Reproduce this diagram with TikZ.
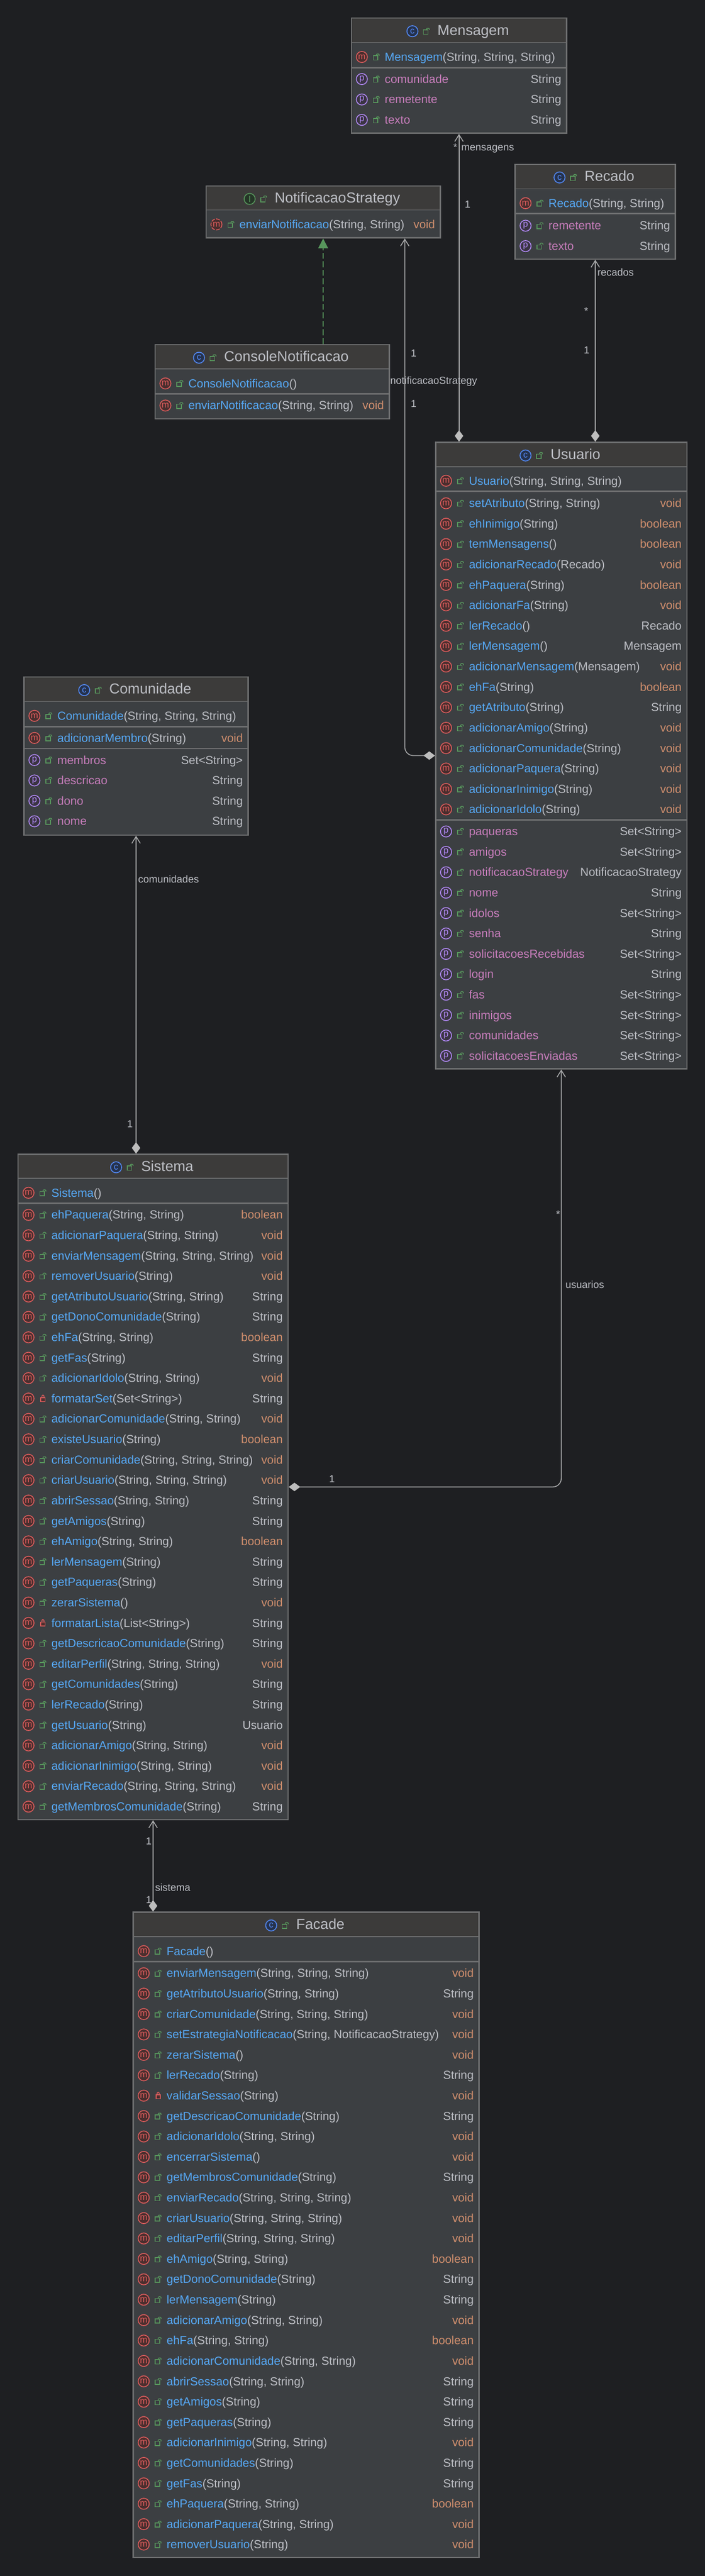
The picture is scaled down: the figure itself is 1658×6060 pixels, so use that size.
\documentclass[tikz,border=0pt]{standalone}
\usepackage{fontspec}
\setmainfont{Liberation Sans}
\usetikzlibrary{arrows.meta, positioning}

\definecolor{bgc}{HTML}{1E1F22}
\definecolor{headc}{HTML}{3C3B3A}
\definecolor{bodyc}{HTML}{3C3F42}
\definecolor{edgec}{HTML}{6E6F70}
\definecolor{linec}{HTML}{A9AAAB}
\definecolor{diac}{HTML}{BDBDBD}
\definecolor{textc}{HTML}{BCBEC4}
\definecolor{namec}{HTML}{56A8F5}
\definecolor{propc}{HTML}{C77DBB}
\definecolor{kwc}{HTML}{CF8E6D}
\definecolor{greenc}{HTML}{57965C}
\definecolor{redc}{HTML}{DB5C5C}
\definecolor{redf}{HTML}{4A2E2E}
\definecolor{purc}{HTML}{B189F5}
\definecolor{purf}{HTML}{3A3442}
\definecolor{bluec}{HTML}{548AF7}
\definecolor{bluef}{HTML}{25324D}
\definecolor{greenf}{HTML}{253627}

\newcommand{\vd}{\textcolor{kwc}{void}}
\newcommand{\bl}{\textcolor{kwc}{boolean}}

\tikzset{
  lockopen/.pic={
    \draw[greenc, line width=1.8pt] (-7,-3) rectangle (3.5,7);
    \draw[greenc, line width=1.8pt, rounded corners=2.5pt] (0,-3) -- (0,-7) -- (7,-7) -- (7,-3);
  },
  lockclosed/.pic={
    \draw[redc, line width=1.8pt, fill=redf] (-5,-2) rectangle (5,7);
    \draw[redc, line width=1.8pt, rounded corners=2pt] (-2.5,-2) -- (-2.5,-8) -- (2.5,-8) -- (2.5,-2);
  }
}

\newcount\rowy

\newcommand{\classbox}[9]{%
  \node[classbody, minimum width={(#4-#2-3)*1pt}, minimum height={(#5-#3-3)*1pt}] (#1) at (#2,#3) {};
  \fill[headc] (#2+3,#3+3) rectangle (#4-3,#6);
  \draw[sepline] (#2+2,#6) -- (#4-2,#6);
  \node[titletext] (#1 title) at ({(#2+#4)/2+33.5},{(#3+#6)/2+12}) {#9};
  \node[#7, left=46pt of #1 title.west] (#1 kind) {#8};
  \pic at ([xshift=-26pt]#1 title.west) {lockopen};
  \def\cls{#1}\def\rowl{#2}\def\rowr{#4}%
}
\newcommand{\sepbar}[1]{\draw[sepbar] (\rowl+2,#1) -- (\rowr-2,#1);}
\newcommand{\rowat}[1]{\global\rowy=#1\relax}
\newcommand{\mrow}[4][lockopen]{%
  \node[micon] (\cls\space icon\the\rowy) at ({\rowl+26},\the\rowy) {m};
  \pic at ({\rowl+60},\the\rowy) {#1};
  \node[rowtext] (\cls\space row\the\rowy) at ({\rowl+80},{\the\rowy+9.5}) {\textcolor{namec}{#2}(#3)};
  \node[typetext] (\cls\space type\the\rowy) at ({\rowr-14},{\the\rowy+9.5}) {#4};
  \global\advance\rowy by 48\relax
}
\newcommand{\prow}[2]{%
  \node[picon] (\cls\space icon\the\rowy) at ({\rowl+26},\the\rowy) {p};
  \pic at ({\rowl+60},\the\rowy) {lockopen};
  \node[rowtext] (\cls\space row\the\rowy) at ({\rowl+80},{\the\rowy+9.5}) {\textcolor{propc}{#1}};
  \node[typetext] (\cls\space type\the\rowy) at ({\rowr-14},{\the\rowy+9.5}) {#2};
  \global\advance\rowy by 48\relax
}

\begin{document}
\begin{tikzpicture}[x=1pt, y=-1pt]
\tikzset{every node/.style={inner sep=0pt, outer sep=0pt}}

\tikzstyle{classbody}=[draw=edgec, fill=bodyc, line width=3pt, outer sep=1.5pt, anchor=north west]
\tikzstyle{sepline}=[draw=edgec, line width=2pt]
\tikzstyle{sepbar}=[draw=edgec, line width=3.5pt]
\tikzstyle{titletext}=[anchor=base, text=textc, font=\fontsize{34}{40}\selectfont, text height=25pt, text depth=7pt]
\tikzstyle{rowtext}=[anchor=base west, text=textc, font=\fontsize{27.5}{32}\selectfont]
\tikzstyle{typetext}=[anchor=base east, text=textc, font=\fontsize{27.5}{32}\selectfont]
\tikzstyle{labeltext}=[anchor=base west, text=textc, font=\fontsize{24}{28}\selectfont]
\tikzstyle{icon}=[circle, minimum size=26pt, line width=2pt, font=\fontsize{21}{21}\selectfont]
\tikzstyle{micon}=[icon, draw=redc, fill=redf, text=redc]
\tikzstyle{picon}=[icon, draw=purc, fill=purf, text=purc]
\tikzstyle{cicon}=[icon, draw=bluec, fill=bluef, text=bluec]
\tikzstyle{iicon}=[icon, draw=greenc, fill=greenf, text=greenc]
\tikzstyle{hasa}=[draw=linec, line width=2pt, arrows={Straight Barb[length=16pt, width=20pt]-Diamond[length=27pt, width=20pt, fill=diac, color=diac]}]
\tikzstyle{impl}=[draw=greenc, line width=2pt, dash pattern=on 14pt off 6pt, arrows={-Triangle[length=23pt, width=23pt, fill=greenc]}]

\fill[bgc] (0,0) rectangle (1658,6060);
\useasboundingbox (0,0) rectangle (1658,6060);

\classbox{mensagem}{825}{41}{1334}{315}{100}{cicon}{c}{Mensagem}
\sepbar{159}
\rowat{134}
\mrow{Mensagem}{String, String, String}{}
\rowat{186}
\prow{comunidade}{String}
\prow{remetente}{String}
\prow{texto}{String}

\classbox{recado}{1210}{385}{1590}{611}{444}{cicon}{c}{Recado}
\sepbar{502}
\rowat{478}
\mrow{Recado}{String, String}{}
\rowat{531}
\prow{remetente}{String}
\prow{texto}{String}

\classbox{strategy}{483}{436}{1037}{561}{494}{iicon}{I}{NotificacaoStrategy}
\rowat{528}
\begin{scope}[micon/.append style={dash pattern=on 9pt off 3pt}]
\mrow{enviarNotificacao}{String, String}{\vd}
\end{scope}

\classbox{console}{363}{809}{917}{987}{868}{cicon}{c}{ConsoleNotificacao}
\sepbar{927}
\rowat{902}
\mrow{ConsoleNotificacao}{}{}
\rowat{954}
\mrow{enviarNotificacao}{String, String}{\vd}

\classbox{usuario}{1023}{1039}{1617}{2516}{1098}{cicon}{c}{Usuario}
\sepbar{1156}
\rowat{1131}
\mrow{Usuario}{String, String, String}{}
\rowat{1184}
\mrow{setAtributo}{String, String}{\vd}
\mrow{ehInimigo}{String}{\bl}
\mrow{temMensagens}{}{\bl}
\mrow{adicionarRecado}{Recado}{\vd}
\mrow{ehPaquera}{String}{\bl}
\mrow{adicionarFa}{String}{\vd}
\mrow{lerRecado}{}{Recado}
\mrow{lerMensagem}{}{Mensagem}
\mrow{adicionarMensagem}{Mensagem}{\vd}
\mrow{ehFa}{String}{\bl}
\mrow{getAtributo}{String}{String}
\mrow{adicionarAmigo}{String}{\vd}
\mrow{adicionarComunidade}{String}{\vd}
\mrow{adicionarPaquera}{String}{\vd}
\mrow{adicionarInimigo}{String}{\vd}
\mrow{adicionarIdolo}{String}{\vd}
\sepbar{1929}
\rowat{1956}
\prow{paqueras}{Set<String>}
\prow{amigos}{Set<String>}
\prow{notificacaoStrategy}{NotificacaoStrategy}
\prow{nome}{String}
\prow{idolos}{Set<String>}
\prow{senha}{String}
\prow{solicitacoesRecebidas}{Set<String>}
\prow{login}{String}
\prow{fas}{Set<String>}
\prow{inimigos}{Set<String>}
\prow{comunidades}{Set<String>}
\prow{solicitacoesEnviadas}{Set<String>}

\classbox{comunidade}{55}{1591}{585}{1966}{1650}{cicon}{c}{Comunidade}
\sepbar{1709}
\sepbar{1761}
\rowat{1684}
\mrow{Comunidade}{String, String, String}{}
\rowat{1736}
\mrow{adicionarMembro}{String}{\vd}
\rowat{1788}
\prow{membros}{Set<String>}
\prow{descricao}{String}
\prow{dono}{String}
\prow{nome}{String}

\classbox{sistema}{41}{2714}{679}{4282}{2772}{cicon}{c}{Sistema}
\sepbar{2831}
\rowat{2806}
\mrow{Sistema}{}{}
\rowat{2858}
\mrow{ehPaquera}{String, String}{\bl}
\mrow{adicionarPaquera}{String, String}{\vd}
\mrow{enviarMensagem}{String, String, String}{\vd}
\mrow{removerUsuario}{String}{\vd}
\mrow{getAtributoUsuario}{String, String}{String}
\mrow{getDonoComunidade}{String}{String}
\mrow{ehFa}{String, String}{\bl}
\mrow{getFas}{String}{String}
\mrow{adicionarIdolo}{String, String}{\vd}
\mrow[lockclosed]{formatarSet}{Set<String>}{String}
\mrow{adicionarComunidade}{String, String}{\vd}
\mrow{existeUsuario}{String}{\bl}
\mrow{criarComunidade}{String, String, String}{\vd}
\mrow{criarUsuario}{String, String, String}{\vd}
\mrow{abrirSessao}{String, String}{String}
\mrow{getAmigos}{String}{String}
\mrow{ehAmigo}{String, String}{\bl}
\mrow{lerMensagem}{String}{String}
\mrow{getPaqueras}{String}{String}
\mrow{zerarSistema}{}{\vd}
\mrow[lockclosed]{formatarLista}{List<String>}{String}
\mrow{getDescricaoComunidade}{String}{String}
\mrow{editarPerfil}{String, String, String}{\vd}
\mrow{getComunidades}{String}{String}
\mrow{lerRecado}{String}{String}
\mrow{getUsuario}{String}{Usuario}
\mrow{adicionarAmigo}{String, String}{\vd}
\mrow{adicionarInimigo}{String, String}{\vd}
\mrow{enviarRecado}{String, String, String}{\vd}
\mrow{getMembrosComunidade}{String}{String}

\classbox{facade}{312}{4497}{1128}{6018}{4556}{cicon}{c}{Facade}
\sepbar{4615}
\rowat{4590}
\mrow{Facade}{}{}
\rowat{4642}
\mrow{enviarMensagem}{String, String, String}{\vd}
\mrow{getAtributoUsuario}{String, String}{String}
\mrow{criarComunidade}{String, String, String}{\vd}
\mrow{setEstrategiaNotificacao}{String, NotificacaoStrategy}{\vd}
\mrow{zerarSistema}{}{\vd}
\mrow{lerRecado}{String}{String}
\mrow[lockclosed]{validarSessao}{String}{\vd}
\mrow{getDescricaoComunidade}{String}{String}
\mrow{adicionarIdolo}{String, String}{\vd}
\mrow{encerrarSistema}{}{\vd}
\mrow{getMembrosComunidade}{String}{String}
\mrow{enviarRecado}{String, String, String}{\vd}
\mrow{criarUsuario}{String, String, String}{\vd}
\mrow{editarPerfil}{String, String, String}{\vd}
\mrow{ehAmigo}{String, String}{\bl}
\mrow{getDonoComunidade}{String}{String}
\mrow{lerMensagem}{String}{String}
\mrow{adicionarAmigo}{String, String}{\vd}
\mrow{ehFa}{String, String}{\bl}
\mrow{adicionarComunidade}{String, String}{\vd}
\mrow{abrirSessao}{String, String}{String}
\mrow{getAmigos}{String}{String}
\mrow{getPaqueras}{String}{String}
\mrow{adicionarInimigo}{String, String}{\vd}
\mrow{getComunidades}{String}{String}
\mrow{getFas}{String}{String}
\mrow{ehPaquera}{String, String}{\bl}
\mrow{adicionarPaquera}{String, String}{\vd}
\mrow{removerUsuario}{String}{\vd}

\coordinate (strategy port) at ([xshift=469pt]strategy.south west);

\draw[impl] (console.north -| strategy.south) -- (strategy.south);
\draw[hasa] (mensagem.south) -- (mensagem.south |- usuario.north);
\draw[hasa] (recado.south) -- (recado.south |- usuario.north);
\draw[hasa, rounded corners=20pt] (strategy port) |- (usuario.west);
\draw[hasa] (comunidade.south) -- (comunidade.south |- sistema.north);
\draw[hasa, rounded corners=20pt] (usuario.south) |- (sistema.east);
\draw[hasa] (sistema.south) -- (sistema.south |- facade.north);

\node[labeltext] (mensagem star) at (1066,355) {*};
\node[labeltext] (mensagem name) at (1085,355) {mensagens};
\node[labeltext] (mensagem one) at (1093,489) {1};
\node[labeltext] (recado name) at (1405,649) {recados};
\node[labeltext] (recado star) at (1374,740) {*};
\node[labeltext] (recado one) at (1373,832) {1};
\node[labeltext] (strategy one) at (966,839) {1};
\node[labeltext] (strategy name) at (918,903) {notificacaoStrategy};
\node[labeltext] (usuario one) at (966,958) {1};
\node[labeltext] (comunidade name) at (325,2077) {comunidades};
\node[labeltext] (comunidade one) at (299,2652) {1};
\node[labeltext] (usuario star) at (1308,2864) {*};
\node[labeltext] (usuario name) at (1330,3030) {usuarios};
\node[labeltext] (sistema one) at (774,3488) {1};
\node[labeltext] (sistema top) at (343,4340) {1};
\node[labeltext] (sistema name) at (365,4448) {sistema};
\node[labeltext] (sistema bottom) at (343,4478) {1};

\end{tikzpicture}
\end{document}
